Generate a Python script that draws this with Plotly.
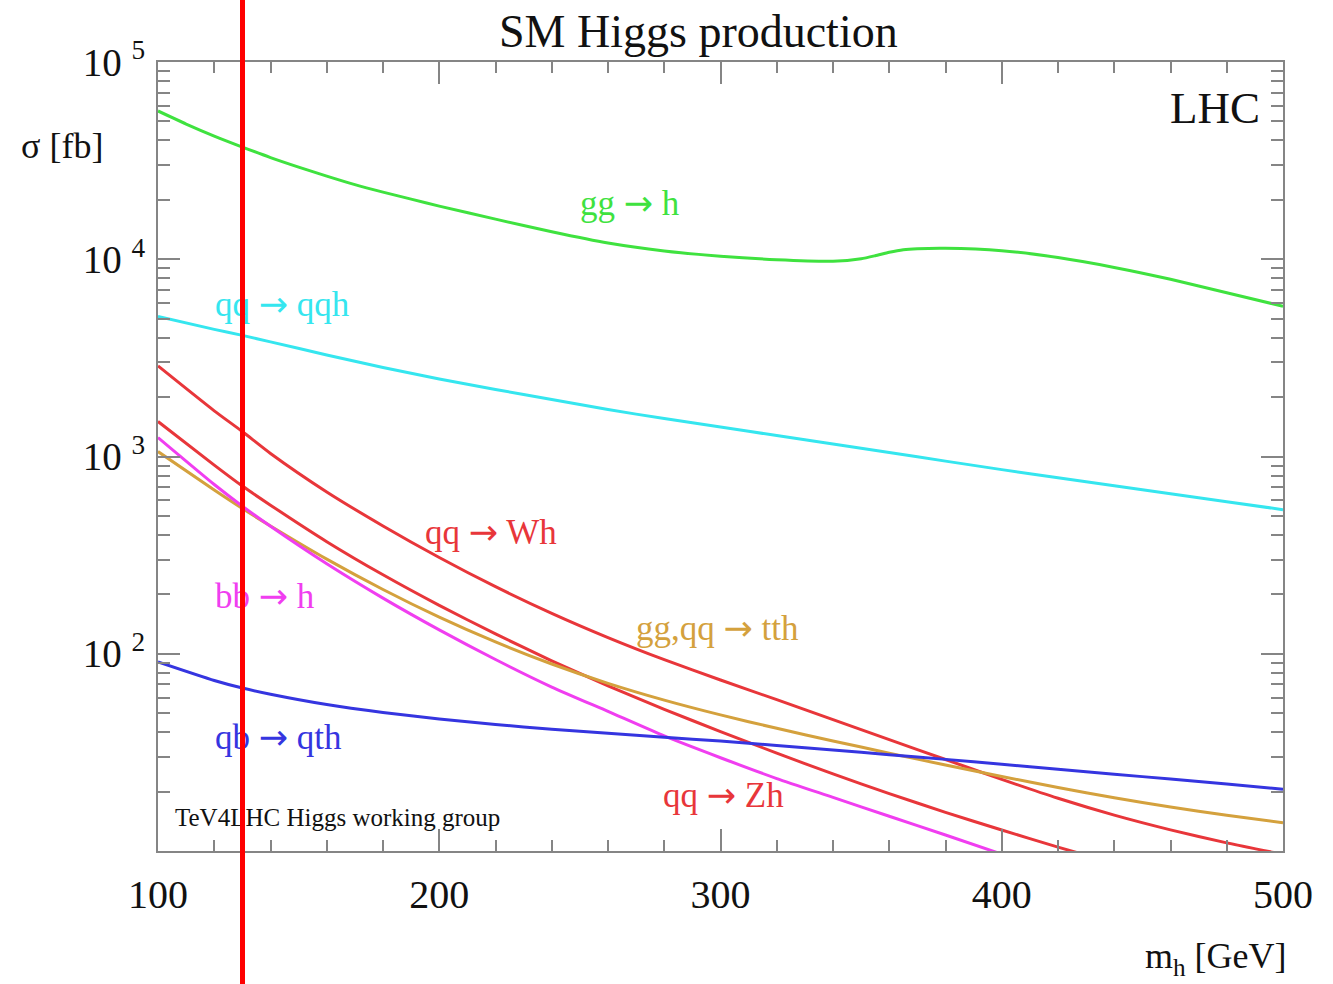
import plotly.graph_objects as go

# Higgs mass grid [GeV]
mass = [100, 120, 130, 140, 160, 180, 200, 220, 240, 260, 280, 300,
        320, 340, 360, 380, 400, 420, 440, 460, 480, 500]
mass_gg = [100, 110, 120, 130, 140, 150, 160, 170, 180, 190, 200, 220, 240,
           260, 280, 300, 320, 340, 350, 355, 360, 365, 370, 380, 400, 420,
           440, 460, 480, 500]

# cross sections [fb]
sigma_gg_h = [56450, 48490, 42140, 37060, 32780, 29330, 26400, 23900, 21890,
              20170, 18590, 15970, 13780, 12080, 11020, 10360, 9943, 9768,
              10060, 10420, 10850, 11180, 11310, 11370, 11050, 10195, 9088,
              7916, 6767, 5773]
sigma_qqh = [5134, 4411, 4111, 3811, 3273, 2828, 2473, 2186, 1945, 1730, 1557,
             1410, 1277, 1156, 1047, 947.5, 858, 781, 711.6, 648, 590, 537.5]
sigma_wh = [2878, 1704, 1338, 1036, 661, 444.6, 307.6, 218.8, 160.3, 120.8,
            93.3, 73.6, 58.5, 46.3, 36.7, 29.1, 23.07, 18.5, 15.2, 12.8, 11.0,
            9.62]
sigma_zh = [1504, 904.3, 707.9, 566.6, 370.0, 251.3, 175.9, 126.0, 92.1, 68.8,
            52.3, 40.3, 31.35, 24.6, 19.55, 15.71, 12.77, 10.47, 8.65]
sigma_bbh = [1247, 721.1, 559.8, 442.6, 285.8, 191.4, 132.1, 93.5, 67.8, 51.0,
             38.3, 29.7, 23.3, 18.7, 15.0, 12.05, 9.64]
sigma_tth = [1059, 675.7, 544.5, 444.6, 301.9, 211.8, 153.4, 114.8, 88.7,
             70.8, 58.2, 48.97, 41.87, 36.14, 31.33, 27.29, 23.87, 20.99,
             18.62, 16.71, 15.17, 13.90]
sigma_qth = [90.86, 73.18, 67.0, 62.31, 55.26, 50.39, 46.7, 43.79, 41.44,
             39.49, 37.71, 36.09, 34.3, 32.54, 30.79, 29.14, 27.51, 25.97,
             24.52, 23.15, 21.85, 20.58]

x_ticks = [100, 200, 300, 400, 500]
x_minor = [m for m in range(120, 500, 20) if m % 100]
y_ticks = [1e2, 1e3, 1e4, 1e5]
y_ticktext = ["10 <sup>2</sup>", "10 <sup>3</sup>", "10 <sup>4</sup>", "10 <sup>5</sup>"]
y_minor = [k * 10 ** e for e in range(1, 5) for k in range(2, 10)]

marker_mass = 130

GREEN = "#3fe23f"
CYAN = "#35e6ef"
RED = "#e8363a"
MAGENTA = "#f03ef0"
ORANGE = "#d4a13d"
BLUE = "#3535e0"

series = [
    (mass_gg, sigma_gg_h, GREEN),
    (mass, sigma_qqh, CYAN),
    (mass, sigma_wh, RED),
    (mass[:len(sigma_zh)], sigma_zh, RED),
    (mass[:len(sigma_tth)], sigma_tth, ORANGE),
    (mass[:len(sigma_bbh)], sigma_bbh, MAGENTA),
    (mass, sigma_qth, BLUE),
]

fig = go.Figure()
for xs, ys, col in series:
    fig.add_trace(go.Scatter(x=xs, y=ys, mode="lines",
                             line=dict(color=col, width=3, shape="spline", smoothing=0.6),
                             hoverinfo="skip"))

SERIF = "Liberation Serif"
W, H = 1333, 984
ML, MR, MT, MB = 158, 50, 62, 133
axis_col = "#858585"

fig.update_layout(
    width=W, height=H,
    margin=dict(l=ML, r=MR, t=MT, b=MB, autoexpand=False),
    plot_bgcolor="white", paper_bgcolor="white",
    showlegend=False,
    font=dict(family=SERIF, color="#111111"),
)

fig.update_xaxes(
    range=[100, 500], tickvals=x_ticks, ticks="inside", ticklen=22,
    tickwidth=1.5, tickcolor=axis_col, showline=True, linecolor=axis_col,
    linewidth=2, mirror="allticks", showgrid=False, zeroline=False,
    tickfont=dict(family=SERIF, size=40, color="#111111"),
    ticklabelstandoff=7, automargin=False,
    minor=dict(tickvals=x_minor, ticks="inside", ticklen=11, tickwidth=1.5,
               tickcolor=axis_col, showgrid=False),
)
fig.update_yaxes(
    type="log", range=[1, 5], tickvals=y_ticks, ticktext=y_ticktext,
    ticks="inside", ticklen=22, tickwidth=1.5, tickcolor=axis_col,
    showline=True, linecolor=axis_col, linewidth=2, mirror="allticks",
    showgrid=False, zeroline=False,
    tickfont=dict(family=SERIF, size=39, color="#111111"),
    ticklabelstandoff=3, automargin=False,
    minor=dict(tickvals=y_minor, ticks="inside", ticklen=12, tickwidth=1.5,
               tickcolor=axis_col, showgrid=False),
)

plot_h = H - MT - MB
plot_w = W - ML - MR


def px_to_paper(px, py):
    return (px - ML) / plot_w, (H - MB - py) / plot_h


ARROW = "<span style=\"font-family:'DejaVu Sans'\">\u2192</span>"


def label(text, m, logy, col, size=35):
    fig.add_annotation(x=m, y=logy, xref="x", yref="y", text=text,
                       showarrow=False, xanchor="center", yanchor="middle",
                       font=dict(family=SERIF, size=size, color=col))


label(f"gg {ARROW} h", 267.8, 4.285, GREEN)
label(f"qq {ARROW} qqh", 144.1, 3.771, CYAN)
label(f"qq {ARROW} Wh", 218.4, 2.619, RED)
label(f"bb {ARROW} h", 138.0, 2.2935, MAGENTA)
label(f"gg,qq {ARROW} tth", 298.8, 2.13, ORANGE)
label(f"qb {ARROW} qth", 143.0, 1.58, BLUE)
label(f"qq {ARROW} Zh", 301.2, 1.285, RED)


# text placed in figure pixels
def text_px(text, px, py, size, xanchor="center"):
    xp, yp = px_to_paper(px, py)
    fig.add_annotation(x=xp, y=yp, xref="paper", yref="paper", text=text,
                       showarrow=False, xanchor=xanchor, yanchor="middle",
                       font=dict(family=SERIF, size=size, color="#111111"))


text_px("SM Higgs production", 698, 31, 46)
text_px("LHC", 1262, 108, 45, xanchor="right")
text_px("TeV4LHC Higgs working group", 173, 817, 25, xanchor="left")
text_px("σ [fb]", 62, 146, 36)
text_px("m<sub>h</sub> [GeV]", 1216, 958, 36)

# vertical marker at m_h = 130 GeV, spanning the whole figure height
_, ymid = px_to_paper(0, H / 2)
fig.add_annotation(x=marker_mass, y=ymid, xref="x", yref="paper", text=" ",
                   showarrow=False, xanchor="center", yanchor="middle",
                   width=5, height=H, bgcolor="#ff0000", borderpad=0,
                   borderwidth=0, font=dict(size=2))

fig.write_html("out.html")
